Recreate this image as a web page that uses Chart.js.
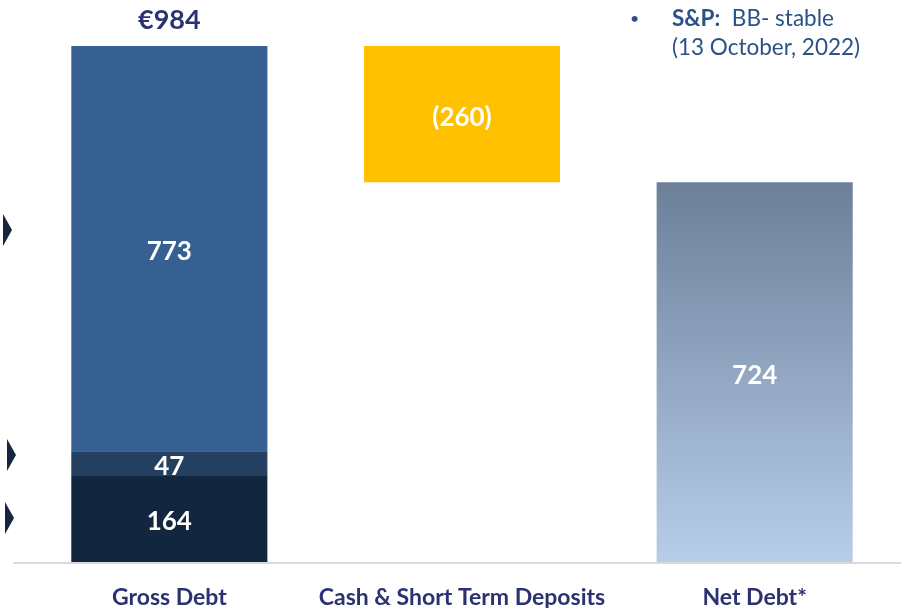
<!DOCTYPE html>
<html>
<head>
<meta charset="utf-8">
<script src="https://cdn.jsdelivr.net/npm/chart.js@4/dist/chart.umd.min.js"></script>
<style>
  body { margin: 0; background: #fff; }
  #wrap { position: relative; width: 901px; height: 610px; }
  #rating { position: absolute; left: 628px; top: 3px; font-family: Lato, sans-serif; font-size: 22.5px; line-height: 29px; color: #2a5286; }
  #rating .bullet { position: absolute; left: 2px; top: 0; font-size: 16px; }
  #rating .txt { margin-left: 44px; }
</style>
</head>
<body>
<div id="wrap">
  <canvas id="myChart" width="901" height="610"></canvas>
  <div id="rating">
    <span class="bullet">•</span>
    <div class="txt"><b>S&amp;P:</b>&nbsp; BB- stable</div>
    <div class="txt">(13 October, 2022)</div>
  </div>
</div>
<script>
// categories and values (EUR m)
const categories = ["Gross Debt", "Cash & Short Term Deposits", "Net Debt*"];
const debt164 = [164, null, null];
const debt47 = [47, null, null];
const debt773 = [773, null, null];
const cashRange = [null, [724, 984], null];
const netDebt = [null, null, 724];

// little arrow markers on the left, at these values
const arrowLevels = [633, 204, 84];

const grossTotal = debt164[0] + debt47[0] + debt773[0];
const navy = "#2b3270";

let gradient, gradH;
function getGradient(ctx, area) {
    if (!gradient || gradH !== area.bottom - area.top) {
        gradH = area.bottom - area.top;
        gradient = ctx.createLinearGradient(0, area.top, 0, area.bottom);
        gradient.addColorStop(0, "#5f7086");
        gradient.addColorStop(0.25, "#6b7e98");
        gradient.addColorStop(1, "#b7cdea");
    }
    return gradient;
}

// write values inside bars, total on top, arrows and baseline
const decorPlugin = {
    id: "decor",
    afterDatasetsDraw(chart) {
        const ctx = chart.ctx;
        const area = chart.chartArea;
        const y = chart.scales.y;
        ctx.save();

        // baseline
        ctx.strokeStyle = "#d9d9d9";
        ctx.lineWidth = 2;
        ctx.beginPath();
        ctx.moveTo(area.left - 10, y.getPixelForValue(0) + 1);
        ctx.lineTo(area.right, y.getPixelForValue(0) + 1);
        ctx.stroke();

        ctx.font = "bold 26px Lato";
        ctx.fillStyle = "#fff";
        ctx.textAlign = "center";
        ctx.textBaseline = "middle";
        chart.data.datasets.forEach((ds, di) => {
            const meta = chart.getDatasetMeta(di);
            meta.data.forEach((bar, i) => {
                const v = ds.data[i];
                if (v == null) return;
                const c = bar.getCenterPoint();
                let text = Array.isArray(v) ? "(" + (v[1] - v[0]) + ")" : String(v);
                ctx.fillText(text, c.x, c.y + 3);
            });
        });

        // total above gross debt
        const top = chart.getDatasetMeta(2).data[0];
        ctx.fillStyle = navy;
        ctx.font = "bold 27px Lato";
        ctx.fillText("€" + grossTotal, top.x, top.y - 26);

        // arrows
        ctx.fillStyle = "#14273f";
        const ax = [3, 7, 5];
        arrowLevels.forEach((lv, i) => {
            const py = y.getPixelForValue(lv);
            ctx.beginPath();
            ctx.moveTo(ax[i], py - 16);
            ctx.lineTo(ax[i] + 9, py);
            ctx.lineTo(ax[i], py + 16);
            ctx.closePath();
            ctx.fill();
        });
        ctx.restore();
    }
};

const myChart = new Chart("myChart", {
    type: "bar",
    data: {
        labels: categories,
        datasets: [
            { data: debt164, backgroundColor: "#13263f" },
            { data: debt47, backgroundColor: "#243f60" },
            { data: debt773, backgroundColor: "#376092" },
            { data: cashRange, backgroundColor: "#ffc000" },
            {
                data: netDebt,
                backgroundColor: function (context) {
                    const { ctx, chartArea } = context.chart;
                    if (!chartArea) return "#8da0b8";
                    return getGradient(ctx, chartArea);
                }
            }
        ]
    },
    options: {
        responsive: false,
        animation: false,
        layout: { padding: { top: 46, left: 23, right: 0, bottom: 2 } },
        datasets: { bar: { barPercentage: 1, categoryPercentage: 0.67, borderWidth: 0, skipNull: true } },
        plugins: { legend: { display: false }, tooltip: { enabled: false } },
        scales: {
            x: {
                stacked: true,
                grid: { display: false },
                border: { display: false },
                afterFit: (scale) => { scale.height = 46; },
                ticks: {
                    color: navy, maxRotation: 0, minRotation: 0,
                    font: { family: "Lato", size: 23, weight: "bold" }, padding: 14
                }
            },
            y: { stacked: true, display: false, min: 0, max: grossTotal }
        }
    },
    plugins: [decorPlugin]
});
</script>
</body>
</html>
